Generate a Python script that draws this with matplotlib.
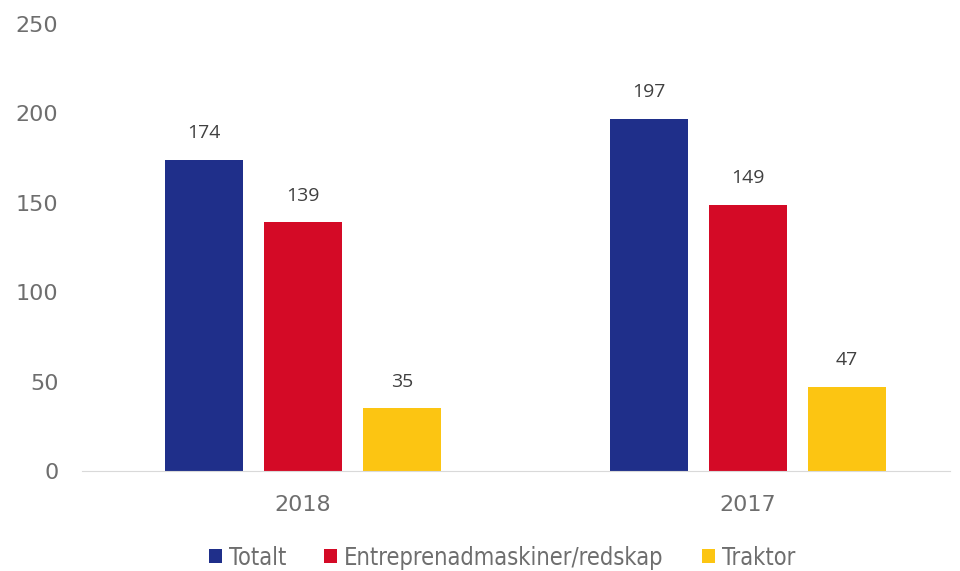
import numpy as np
import matplotlib
matplotlib.use("Agg")
import matplotlib.pyplot as plt

# data
years = ["2018", "2017"]
series = ["Totalt", "Entreprenadmaskiner/redskap", "Traktor"]
totalt = [174, 197]
entreprenad = [139, 149]
traktor = [35, 47]
colors = ["#1F2F8A", "#D40A26", "#FCC512"]

grey = "#6E6E6E"
fig = plt.figure(figsize=(9.6, 5.71), dpi=100)
ax = fig.add_axes([0.0854, 0.175, 0.904, 0.783])

x = np.arange(len(years))
width = 0.175
step = 0.2225
for i, (name, vals) in enumerate(zip(series, [totalt, entreprenad, traktor])):
    pos = x + (i - 1) * step
    bars = ax.bar(pos, vals, width, color=colors[i], label=name, zorder=2)
    for b, v in zip(bars, vals):
        ax.text(b.get_x() + b.get_width() / 2, v + 10, str(v), ha="center", va="bottom",
                fontsize=14, color="#404040", family=["Open Sans", "DejaVu Sans"])

ax.set_xlim(-0.497, 1.454)
ax.set_ylim(0, 250)
ax.set_yticks(range(0, 251, 50))
ax.set_xticks(x)
ax.set_xticklabels(years)
for s in ["top", "right", "left"]:
    ax.spines[s].set_visible(False)
ax.spines["bottom"].set_color("#D9D9D9")
ax.tick_params(axis="both", length=0, colors=grey, labelsize=16)
ax.tick_params(axis="y", pad=17)
ax.tick_params(axis="x", pad=17)
for lab in ax.get_xticklabels() + ax.get_yticklabels():
    lab.set_family(["DejaVu Sans"])

leg = fig.legend(loc="lower center", bbox_to_anchor=(0.523, -0.035), ncol=3, frameon=False,
                 handlelength=0.55, handleheight=0.55, handletextpad=0.3, columnspacing=1.6,
                 prop={"family": ["DejaVu Sans"], "stretch": "condensed", "size": 17})
for t in leg.get_texts():
    t.set_color(grey)

fig.savefig("out.png", dpi=100)
